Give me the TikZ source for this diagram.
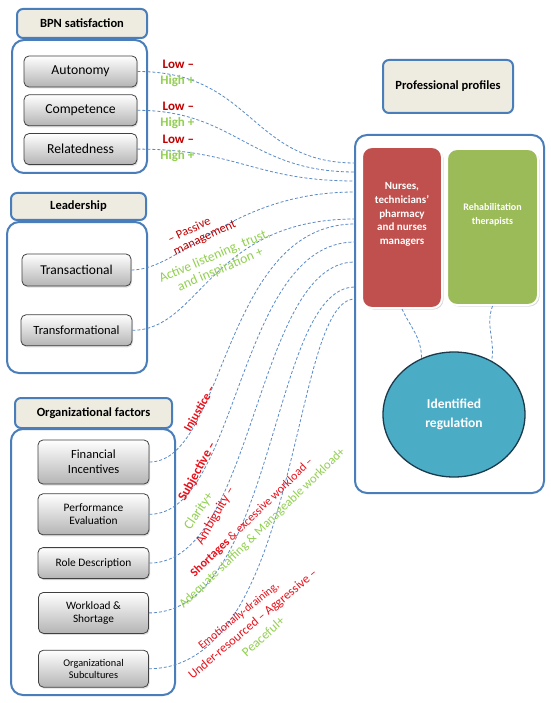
\documentclass[tikz,border=0pt]{standalone}
\usepackage{fontspec}
\setmainfont{Carlito}
\usepackage{xcolor}
\definecolor{GroupBlue} {HTML}{4A7EBB}
\definecolor{HeadBeige} {HTML}{EEECE1}
\definecolor{LinkBlue}  {HTML}{5A8AC6}
\definecolor{BoxEdge}   {HTML}{404040}
\definecolor{BoxShade}  {HTML}{B4B4B4}
\definecolor{NurseRed}  {HTML}{C0504D}
\definecolor{RehabGreen}{HTML}{9BBB59}
\definecolor{RegTeal}   {HTML}{4BACC6}
\definecolor{RegEdge}   {HTML}{1B3A4B}
\definecolor{LowRed}    {HTML}{C00000}
\definecolor{HighGreen} {HTML}{92D050}
\definecolor{FactorRed} {HTML}{E8111B}
\usepackage{tikz}
\usetikzlibrary{positioning,shapes.geometric,shadows}
\newcommand{\fs}[2]{\fontsize{#1pt}{#2pt}\selectfont}

\begin{document}
\begin{tikzpicture}[x=1pt,y=1pt,
  group/.style={draw=GroupBlue,line width=2pt,rounded corners=12pt,fill=white},
  head/.style={draw=GroupBlue,line width=2pt,rounded corners=6pt,
    fill=HeadBeige,font=\fs{12.5}{15}\bfseries},
  factor/.style={draw=BoxEdge,line width=0.8pt,rounded corners=5pt,
    top color=white,bottom color=BoxShade,align=center,
    drop shadow={opacity=0.25,shadow xshift=1pt,shadow yshift=-1.5pt}},
  profile/.style={draw=white,line width=2pt,rounded corners=10pt,
    drop shadow={opacity=0.3,shadow xshift=1.5pt,shadow yshift=-1.5pt}},
  proftxt/.style={text=white,align=center},
  link/.style={LinkBlue,line width=0.8pt,dash pattern=on 3pt off 2pt},
  lowlbl/.style={LowRed,font=\fs{13}{15}\bfseries,inner sep=1pt},
  highlbl/.style={HighGreen,font=\fs{13}{15}\bfseries,inner sep=1pt},
  badlbl/.style={FactorRed,font=\fs{12.5}{14},inner sep=1pt},
  goodlbl/.style={HighGreen,font=\fs{13}{15},inner sep=1pt}]
  \useasboundingbox[fill=white](0,0)rectangle(550,-703);
  % BPN satisfaction
  \node[group,minimum width=135pt,minimum height=133pt](bpn) at (79.5,-106.5){};
  \node[head,minimum width=130pt,minimum height=29pt](bpnHead) at (82,-23.5)
    {BPN satisfaction};
  \node[factor,font=\fs{13.7}{16},minimum width=113pt,minimum height=31pt](aut)
    at (80.5,-71.5){Autonomy};
  \node[factor,font=\fs{13.7}{16},minimum width=113pt,minimum height=31pt,
    below=7pt of aut](com){Competence};
  \node[factor,font=\fs{13.7}{16},minimum width=113pt,minimum height=31pt,
    below=7pt of com](rel){Relatedness};
  % Leadership
  \node[group,minimum width=140pt,minimum height=151pt](lead) at (77,-297.5){};
  \node[head,minimum width=135pt,minimum height=27pt](leadHead) at (78.5,-206.5)
    {Leadership};
  \node[factor,font=\fs{13.5}{16},minimum width=109pt,minimum height=32pt](trs)
    at (76.5,-270){Transactional};
  \node[factor,font=\fs{12.5}{15},minimum width=111pt,minimum height=31pt,
    below=28pt of trs](trf){Transformational};
  % Organizational factors
  \node[group,minimum width=164pt,minimum height=266pt](org) at (93,-562){};
  \node[head,minimum width=157pt,minimum height=30pt](orgHead) at (93.5,-413)
    {Organizational factors};
  \node[factor,font=\fs{12.5}{15},minimum width=111pt,minimum height=44pt](fin)
    at (93.5,-462){Financial\\Incentives};
  \node[factor,font=\fs{11.4}{12.7},minimum width=111pt,minimum height=41pt,
    below=9pt of fin](prf){Performance\\Evaluation};
  \node[factor,font=\fs{11.4}{13},minimum width=111pt,minimum height=31pt,
    below=12pt of prf](role){Role Description};
  \node[factor,font=\fs{11.3}{13.3},minimum width=110pt,minimum height=41pt,
    below=13pt of role](wrk){Workload \&\\Shortage};
  \node[factor,font=\fs{10.3}{12.3},minimum width=110pt,minimum height=37pt,
    below=16pt of wrk](sub){Organizational\\Subcultures};
  % Professional profiles
  \node[group,minimum width=189pt,minimum height=358pt](prof) at (449.5,-314){};
  \node[head,minimum width=130pt,minimum height=53pt](profHead) at (448,-86.5)
    {Professional profiles};
  \node[profile,fill=NurseRed,minimum width=80pt,minimum height=161pt](nurse)
    at (402,-227.5){};
  \node[proftxt,font=\fs{11}{13.6}\bfseries](nurseTxt) at ([yshift=13pt]nurse.center)
    {Nurses,\\technicians'\\pharmacy\\and nurses\\managers};
  \node[profile,fill=RehabGreen,minimum width=91pt,minimum height=156pt](rehab)
    at (492.5,-227){};
  \node[proftxt,font=\fs{10}{14}\bfseries](rehabTxt) at ([yshift=12pt]rehab.center)
    {Rehabilitation\\therapists};
  \node[ellipse,fill=RegTeal,draw=RegEdge,line width=1.3pt,text=white,
    align=center,font=\fs{13.5}{19}\bfseries,inner sep=0pt,
    minimum width=142pt,minimum height=125pt](idreg) at (454,-414.5)
    {Identified\\regulation};
  \draw[link](nurse.south) to[out=-65,in=90] (idreg.120);
  \draw[link](rehab.south) to[out=-110,in=80] (idreg.55);
  % Links into the profiles
  \foreach \n/\y in {Aut/163,Com/172,Rel/181,Trs/192,Trf/219,
      Fin/224,Prf/242,Rol/262,Wrk/287,Sub/299}
    \coordinate(e\n) at (355,-\y);
  \foreach \s/\e/\a/\b in {aut/Aut/115/105,com/Com/98/105,rel/Rel/100/100,
      trs/Trs/50/125,trf/Trf/68/145,fin/Fin/76/133,prf/Prf/90/118,
      role/Rol/106/100,wrk/Wrk/128/85,sub/Sub/153/65}
    \draw[link](\s.east) .. controls +(\a,0) and +(-\b,0) .. (e\e);
  % Annotation
  \foreach \b/\ly/\hy in {aut/7.5/-9.5,com/3.5/-12.5,rel/9.5/-6.5}{
    \node[lowlbl](lo\b) at ([shift={(41,\ly)}]\b.east){Low --};
    \node[highlbl](hi\b) at ([shift={(40,\hy)}]\b.east){High +};
  }
  \node[LowRed,font=\fs{12.5}{13},align=left,rotate=25,inner sep=1pt](lblPassive)
    at (202,-232){-- Passive\\management};
  \node[goodlbl,font=\fs{13.5}{15},align=center,rotate=23](lblActive)
    at (217.5,-263){Active listening, trust,\\and inspiration +};
  \node[badlbl,font=\fs{12}{14}\bfseries,rotate=60](lblInj) at (200,-409)
    {Injustice --};
  \node[badlbl,font=\fs{13}{14}\bfseries,rotate=61](lblSubj) at (197.5,-471.5)
    {Subjective --};
  \node[goodlbl,font=\fs{13.5}{15},rotate=56](lblClar) at (199,-511)
    {Clarity+};
  \node[badlbl,font=\fs{13.3}{15},rotate=60](lblAmb) at (215.5,-516)
    {Ambiguity --};
  \node[badlbl,font=\fs{12}{14},rotate=44](lblShort) at (252,-517.5)
    {\textbf{Shortages} \& excessive workload --};
  \node[goodlbl,font=\fs{12.6}{14},rotate=44](lblAdeq) at (262.5,-528.5)
    {Adequate staffing \& Manageable workload+};
  \node[badlbl,font=\fs{11.5}{13},rotate=39](lblEmo) at (239,-616)
    {Emotionally-draining,};
  \node[badlbl,font=\fs{12.7}{14},rotate=40](lblUnder) at (253,-624.5)
    {Under-resourced -- Aggressive --};
  \node[goodlbl,font=\fs{13.2}{15},rotate=42](lblPeace) at (263,-636.5)
    {Peaceful+};
\end{tikzpicture}
\end{document}
